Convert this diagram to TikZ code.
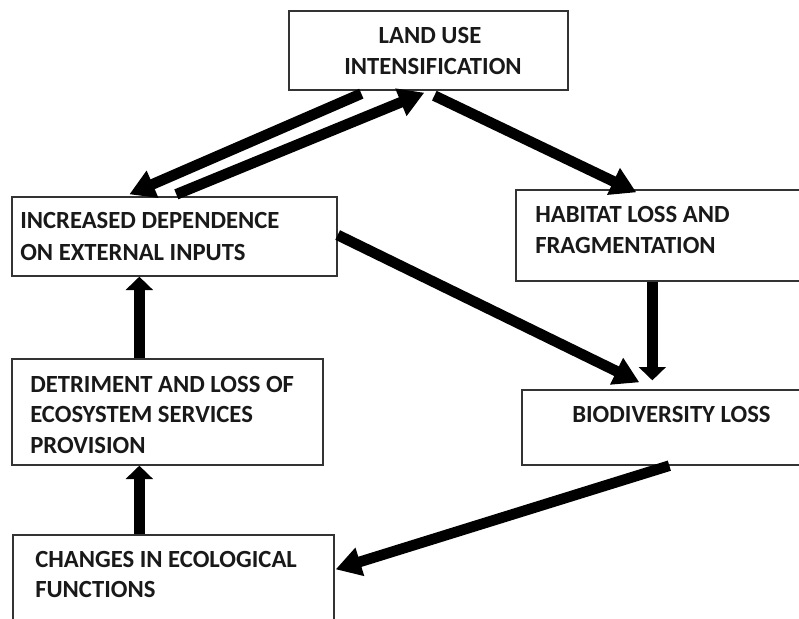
\documentclass[tikz,border=0pt]{standalone}
\usepackage{fontspec}
\setmainfont{Carlito}
\usetikzlibrary{arrows.meta,calc}
\begin{document}
\begin{tikzpicture}[x=0.75pt,y=-0.75pt,
  box/.style={draw=black!80,line width=1pt,fill=white,inner sep=0pt,rectangle},
  txt/.style={font=\fontsize{18.5}{23}\selectfont\bfseries,text=black!90,inner sep=0pt},
  arrV/.style={line width=8pt,draw=black,-{Triangle[length=10pt,width=20pt]}},
  arrD/.style={line width=8pt,draw=black,-{Triangle[length=19pt,width=21pt]}}]
\clip (0,0) rectangle (799,618);
\fill[white] (0,0) rectangle (799,618);
% boxes
\node[box,minimum width=209.25pt,minimum height=59.25pt] (lu) at (428.5,50.5) {};
\node[box,minimum width=243.75pt,minimum height=59.25pt] (inc) at (174.5,236.5) {};
\node[box,minimum width=222pt,minimum height=68.25pt] (hab) at (664,235.5) {};
\node[box,minimum width=217.5pt,minimum height=56.25pt] (bio) at (667,427.5) {};
\node[box,minimum width=233.25pt,minimum height=79.5pt] (det) at (167.5,412) {};
\node[box,minimum width=240.75pt,minimum height=78.75pt] (chg) at (173.5,587.5) {};
% texts
\node[txt,anchor=base] (lu1) at (430,43) {LAND USE};
\node[txt,anchor=base] (lu2) at (433,74) {INTENSIFICATION};
\node[txt,anchor=base west] (inc1) at (20,228) {INCREASED DEPENDENCE};
\node[txt,anchor=base west] (inc2) at (20,260) {ON EXTERNAL INPUTS};
\node[txt,anchor=base west] (hab1) at (535,222) {HABITAT LOSS AND};
\node[txt,anchor=base west] (hab2) at (535,253) {FRAGMENTATION};
\node[txt,anchor=base west] (bio1) at (572,422) {BIODIVERSITY LOSS};
\node[txt,anchor=base west] (det1) at (30,392) {DETRIMENT AND LOSS OF};
\node[txt,anchor=base west] (det2) at (30,422) {ECOSYSTEM SERVICES};
\node[txt,anchor=base west] (det3) at (30,453) {PROVISION};
\node[txt,anchor=base west] (chg1) at (35,567) {CHANGES IN ECOLOGICAL};
\node[txt,anchor=base west] (chg2) at (35,597) {FUNCTIONS};
% arrows
\draw[arrD] ($(lu.south west)+(73,3)$) -- ($(inc.north west)+(118,-2)$);
\draw[arrD] ($(inc.north west)+(165,-2)$) -- ($(lu.south west)+(136,2)$);
\draw[arrD] ($(lu.south west)+(146,5)$) -- ($(hab.north west)+(121,3)$);
\draw[arrD] ($(inc.east)+(0,-1.5)$) -- ($(bio.north west)+(118,-7)$);
\draw[arrV] ($(hab.south west)+(137,0)$) -- ($(bio.north west)+(131,-9)$);
\draw[arrD] ($(bio.south west)+(148,0)$) -- ($(chg.north east)+(1,35)$);
\draw[arrV] ($(det.north west)+(128,0)$) -- ($(inc.south west)+(128,0)$);
\draw[arrV] ($(chg.north west)+(127,0)$) -- ($(det.south west)+(128,0)$);
\end{tikzpicture}
\end{document}
